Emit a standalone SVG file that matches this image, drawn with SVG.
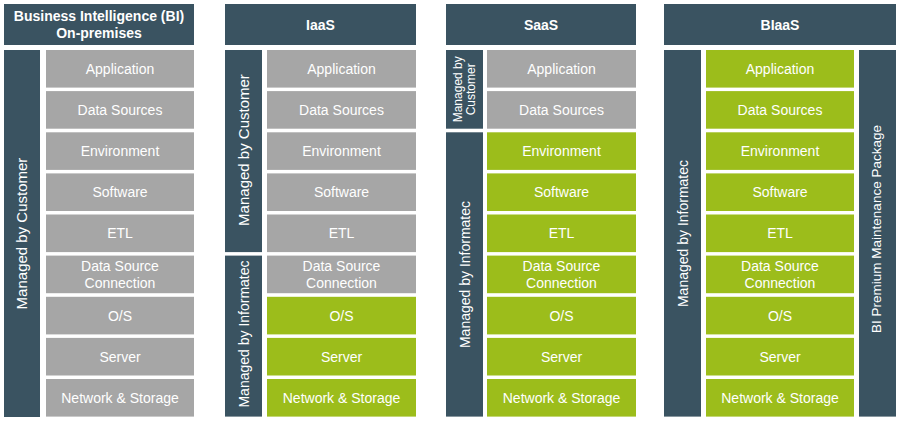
<svg xmlns="http://www.w3.org/2000/svg" width="900" height="422" viewBox="0 0 900 422">
<style>
.hd{fill:#3a5361}
.bar{fill:#3a5361}
.g{fill:#a6a6a6}
.v{fill:#9cbd1b}
text{font-family:"Liberation Sans",Arial,sans-serif;fill:#ffffff;text-anchor:middle}
.ht{font-size:14px;font-weight:bold}
.rt{font-size:14px}
.bt{font-size:14px}
.bc{font-size:15px}
.bp{font-size:13.5px}
.st{font-size:12px}
</style>
<rect width="900" height="422" fill="#ffffff"/>

<!-- Column 1: BI On-premises -->
<g id="col1">
<g id="col1-header"><rect class="hd" x="4" y="4" width="190" height="41"/><text class="ht" x="99" y="21">Business Intelligence (BI)</text><text class="ht" x="99" y="38">On-premises</text></g>
<g id="col1-customer"><rect class="bar" x="4" y="50" width="36" height="367"/><text class="bc" transform="translate(26.5,233.5) rotate(-90)">Managed by Customer</text></g>
<g id="col1-app"><rect class="g" x="46" y="50" width="148" height="37.6"/><text class="rt" x="120" y="73.8">Application</text></g>
<g id="col1-ds"><rect class="g" x="46" y="91.1" width="148" height="37.6"/><text class="rt" x="120" y="114.9">Data Sources</text></g>
<g id="col1-env"><rect class="g" x="46" y="132.3" width="148" height="37.6"/><text class="rt" x="120" y="156.1">Environment</text></g>
<g id="col1-sw"><rect class="g" x="46" y="173.4" width="148" height="37.6"/><text class="rt" x="120" y="197.2">Software</text></g>
<g id="col1-etl"><rect class="g" x="46" y="214.5" width="148" height="37.6"/><text class="rt" x="120" y="238.3">ETL</text></g>
<g id="col1-dsc"><rect class="g" x="46" y="255.6" width="148" height="37.6"/><text class="rt" x="120" y="271">Data Source</text><text class="rt" x="120" y="288">Connection</text></g>
<g id="col1-os"><rect class="g" x="46" y="296.8" width="148" height="37.6"/><text class="rt" x="120" y="320.6">O/S</text></g>
<g id="col1-srv"><rect class="g" x="46" y="337.9" width="148" height="37.6"/><text class="rt" x="120" y="361.7">Server</text></g>
<g id="col1-net"><rect class="g" x="46" y="379" width="148" height="37.6"/><text class="rt" x="120" y="402.8">Network &amp; Storage</text></g>
</g>

<!-- Column 2: IaaS -->
<g id="col2">
<g id="col2-header"><rect class="hd" x="225" y="4" width="191" height="41"/><text class="ht" x="320.5" y="29.5">IaaS</text></g>
<g id="col2-customer"><rect class="bar" x="225" y="50" width="37" height="202.1"/><text class="bc" transform="translate(248.5,150) rotate(-90)">Managed by Customer</text></g>
<g id="col2-informatec"><rect class="bar" x="225" y="255.6" width="37" height="161"/><text class="bt" transform="translate(248.5,334) rotate(-90)">Managed by Informatec</text></g>
<g id="col2-app"><rect class="g" x="267" y="50" width="149" height="37.6"/><text class="rt" x="341.5" y="73.8">Application</text></g>
<g id="col2-ds"><rect class="g" x="267" y="91.1" width="149" height="37.6"/><text class="rt" x="341.5" y="114.9">Data Sources</text></g>
<g id="col2-env"><rect class="g" x="267" y="132.3" width="149" height="37.6"/><text class="rt" x="341.5" y="156.1">Environment</text></g>
<g id="col2-sw"><rect class="g" x="267" y="173.4" width="149" height="37.6"/><text class="rt" x="341.5" y="197.2">Software</text></g>
<g id="col2-etl"><rect class="g" x="267" y="214.5" width="149" height="37.6"/><text class="rt" x="341.5" y="238.3">ETL</text></g>
<g id="col2-dsc"><rect class="g" x="267" y="255.6" width="149" height="37.6"/><text class="rt" x="341.5" y="271">Data Source</text><text class="rt" x="341.5" y="288">Connection</text></g>
<g id="col2-os"><rect class="v" x="267" y="296.8" width="149" height="37.6"/><text class="rt" x="341.5" y="320.6">O/S</text></g>
<g id="col2-srv"><rect class="v" x="267" y="337.9" width="149" height="37.6"/><text class="rt" x="341.5" y="361.7">Server</text></g>
<g id="col2-net"><rect class="v" x="267" y="379" width="149" height="37.6"/><text class="rt" x="341.5" y="402.8">Network &amp; Storage</text></g>
</g>

<!-- Column 3: SaaS -->
<g id="col3">
<g id="col3-header"><rect class="hd" x="446" y="4" width="190" height="41"/><text class="ht" x="541" y="29.5">SaaS</text></g>
<g id="col3-customer"><rect class="bar" x="446" y="50" width="37" height="78.7"/><text class="st" transform="translate(462,89.3) rotate(-90)">Managed by</text><text class="st" transform="translate(475,89.3) rotate(-90)">Customer</text></g>
<g id="col3-informatec"><rect class="bar" x="446" y="132.3" width="37" height="284.3"/><text class="bt" transform="translate(469.5,274.5) rotate(-90)">Managed by Informatec</text></g>
<g id="col3-app"><rect class="g" x="487" y="50" width="149" height="37.6"/><text class="rt" x="561.5" y="73.8">Application</text></g>
<g id="col3-ds"><rect class="g" x="487" y="91.1" width="149" height="37.6"/><text class="rt" x="561.5" y="114.9">Data Sources</text></g>
<g id="col3-env"><rect class="v" x="487" y="132.3" width="149" height="37.6"/><text class="rt" x="561.5" y="156.1">Environment</text></g>
<g id="col3-sw"><rect class="v" x="487" y="173.4" width="149" height="37.6"/><text class="rt" x="561.5" y="197.2">Software</text></g>
<g id="col3-etl"><rect class="v" x="487" y="214.5" width="149" height="37.6"/><text class="rt" x="561.5" y="238.3">ETL</text></g>
<g id="col3-dsc"><rect class="v" x="487" y="255.6" width="149" height="37.6"/><text class="rt" x="561.5" y="271">Data Source</text><text class="rt" x="561.5" y="288">Connection</text></g>
<g id="col3-os"><rect class="v" x="487" y="296.8" width="149" height="37.6"/><text class="rt" x="561.5" y="320.6">O/S</text></g>
<g id="col3-srv"><rect class="v" x="487" y="337.9" width="149" height="37.6"/><text class="rt" x="561.5" y="361.7">Server</text></g>
<g id="col3-net"><rect class="v" x="487" y="379" width="149" height="37.6"/><text class="rt" x="561.5" y="402.8">Network &amp; Storage</text></g>
</g>

<!-- Column 4: BIaaS -->
<g id="col4">
<g id="col4-header"><rect class="hd" x="664" y="4" width="232" height="41"/><text class="ht" x="780" y="29.5">BIaaS</text></g>
<g id="col4-informatec"><rect class="bar" x="664" y="50" width="37" height="366.6"/><text class="bt" transform="translate(687.5,233.5) rotate(-90)">Managed by Informatec</text></g>
<g id="col4-package"><rect class="bar" x="859" y="50" width="37" height="366.6"/><text class="bp" transform="translate(881,229) rotate(-90)">BI Premium Maintenance Package</text></g>
<g id="col4-app"><rect class="v" x="706" y="50" width="148" height="37.6"/><text class="rt" x="780" y="73.8">Application</text></g>
<g id="col4-ds"><rect class="v" x="706" y="91.1" width="148" height="37.6"/><text class="rt" x="780" y="114.9">Data Sources</text></g>
<g id="col4-env"><rect class="v" x="706" y="132.3" width="148" height="37.6"/><text class="rt" x="780" y="156.1">Environment</text></g>
<g id="col4-sw"><rect class="v" x="706" y="173.4" width="148" height="37.6"/><text class="rt" x="780" y="197.2">Software</text></g>
<g id="col4-etl"><rect class="v" x="706" y="214.5" width="148" height="37.6"/><text class="rt" x="780" y="238.3">ETL</text></g>
<g id="col4-dsc"><rect class="v" x="706" y="255.6" width="148" height="37.6"/><text class="rt" x="780" y="271">Data Source</text><text class="rt" x="780" y="288">Connection</text></g>
<g id="col4-os"><rect class="v" x="706" y="296.8" width="148" height="37.6"/><text class="rt" x="780" y="320.6">O/S</text></g>
<g id="col4-srv"><rect class="v" x="706" y="337.9" width="148" height="37.6"/><text class="rt" x="780" y="361.7">Server</text></g>
<g id="col4-net"><rect class="v" x="706" y="379" width="148" height="37.6"/><text class="rt" x="780" y="402.8">Network &amp; Storage</text></g>
</g>

<g id="connectors"></g>
</svg>
